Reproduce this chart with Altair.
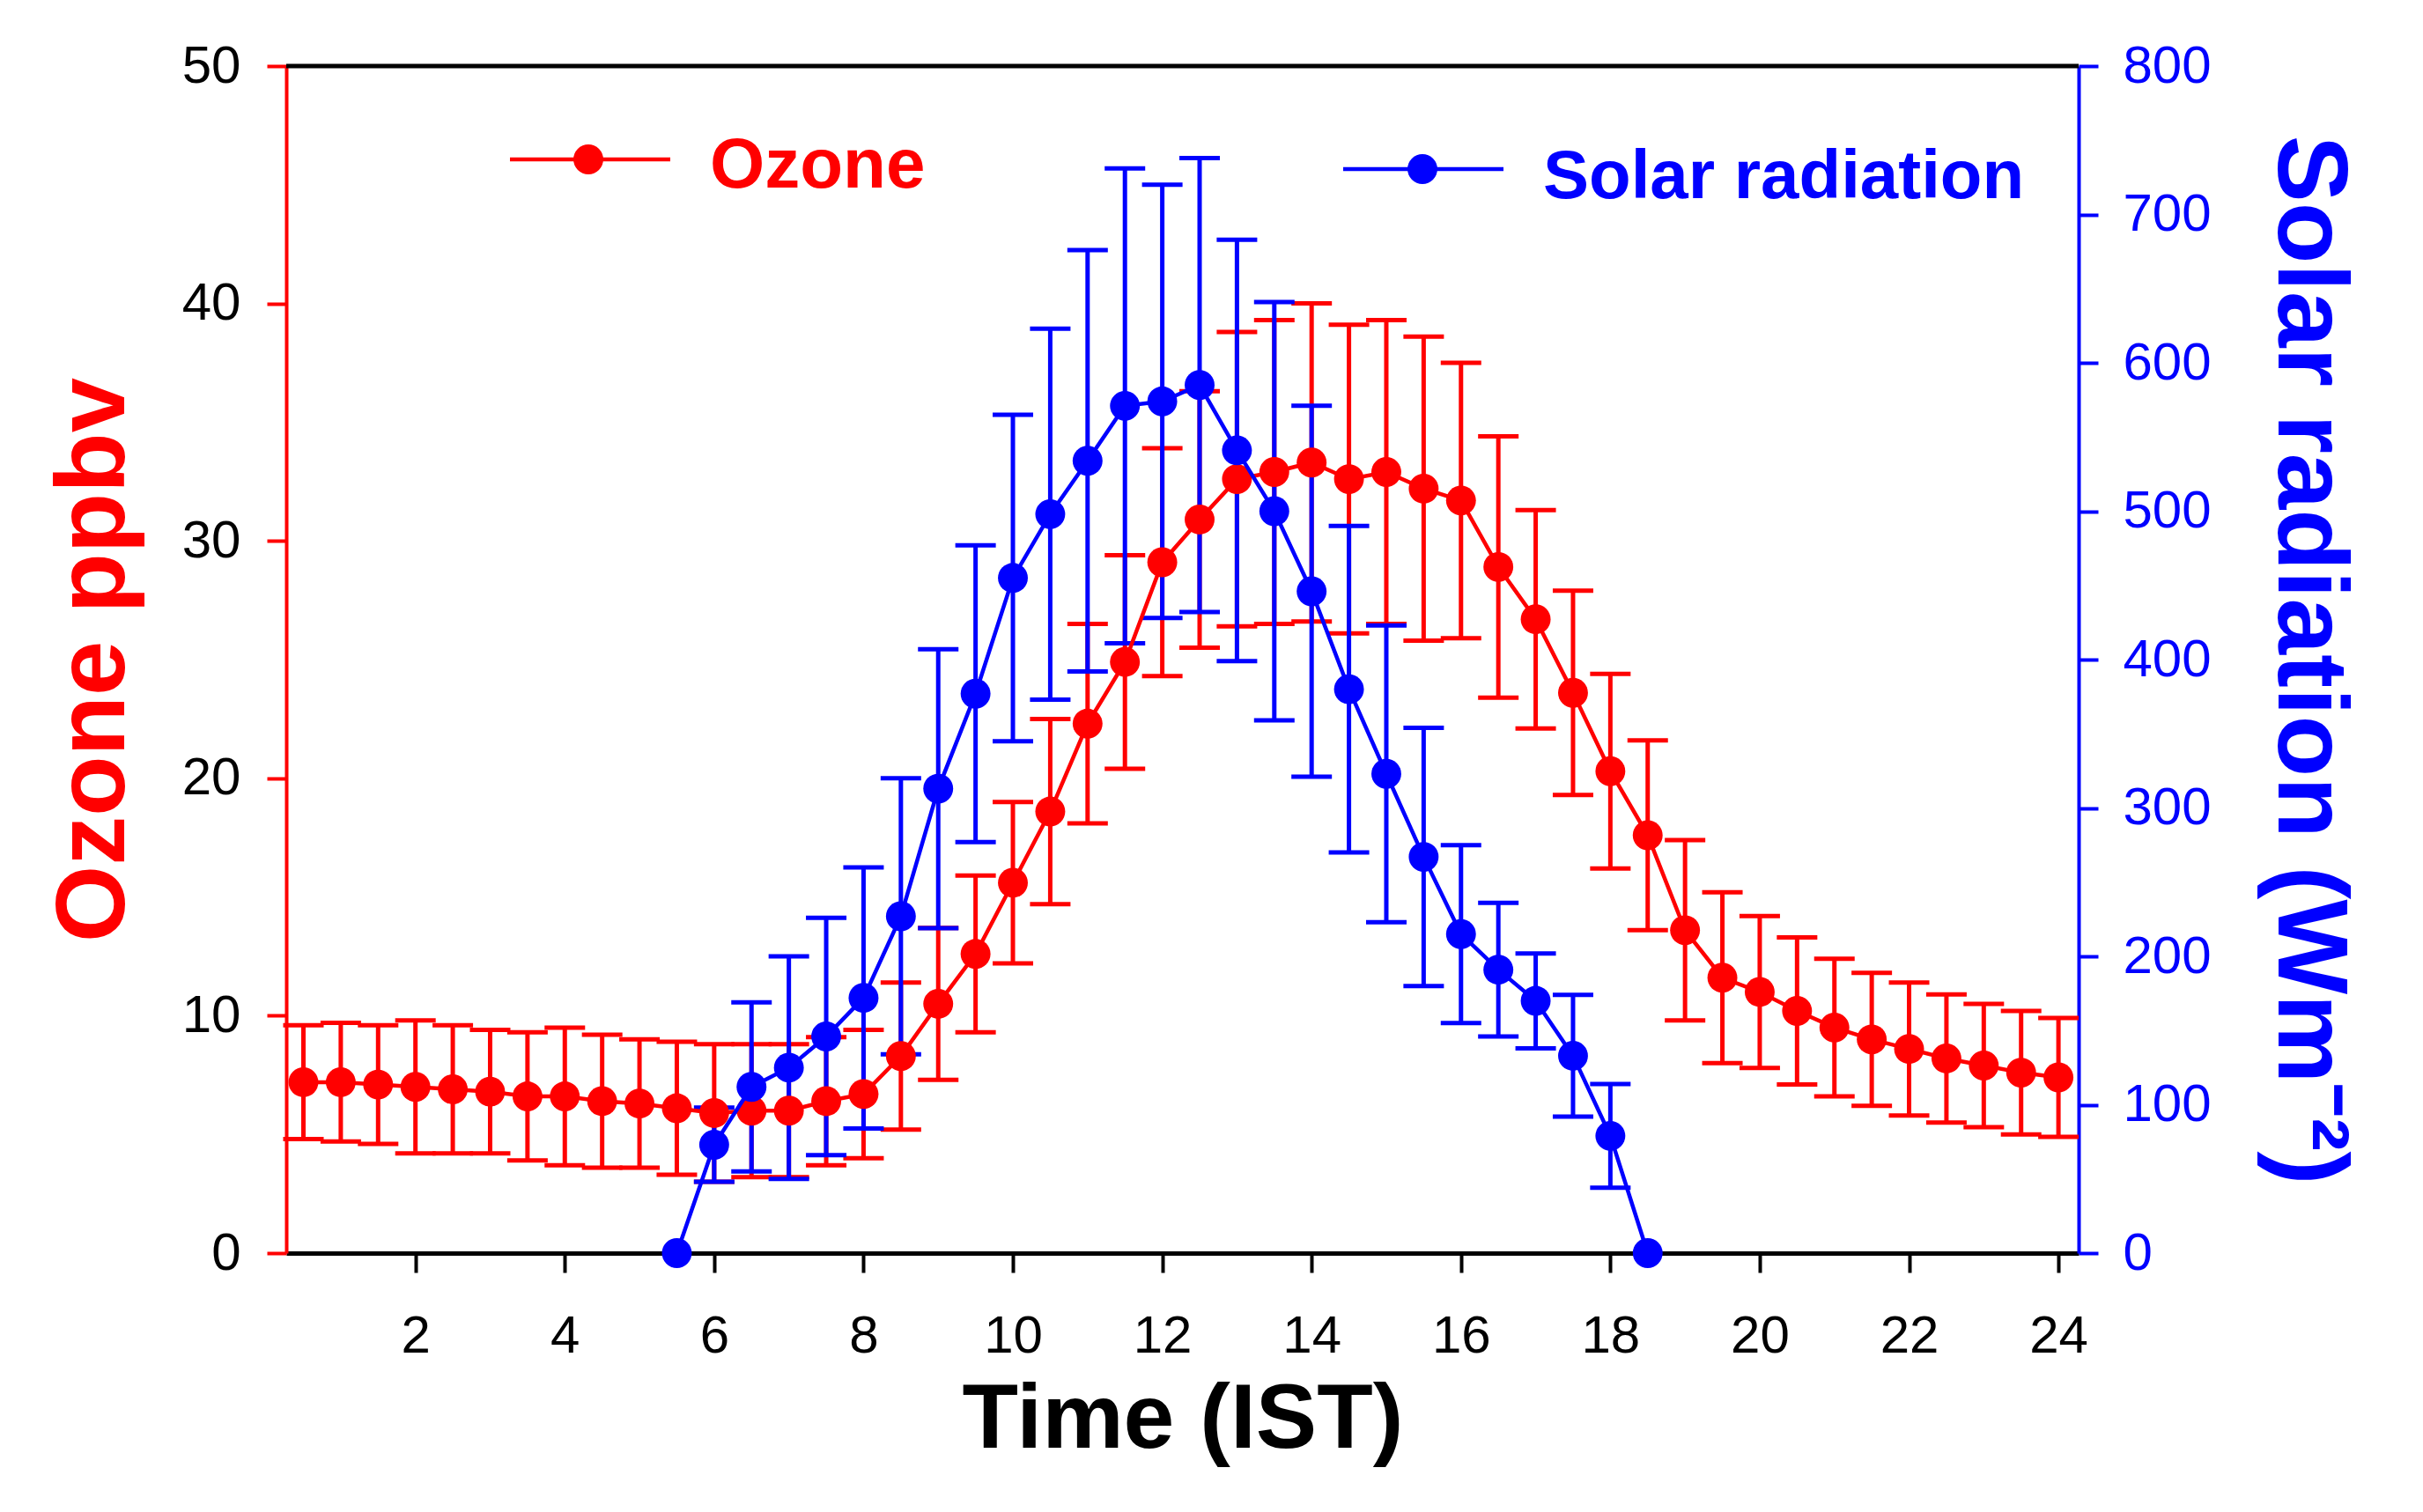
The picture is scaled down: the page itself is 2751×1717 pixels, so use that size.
import altair as alt
import pandas as pd

# ---------------- data ----------------
ozone_time = [0.5, 1.0, 1.5, 2.0, 2.5, 3.0, 3.5, 4.0, 4.5, 5.0, 5.5, 6.0,
              6.5, 7.0, 7.5, 8.0, 8.5, 9.0, 9.5, 10.0, 10.5, 11.0, 11.5, 12.0,
              12.5, 13.0, 13.5, 14.0, 14.5, 15.0, 15.5, 16.0, 16.5, 17.0, 17.5, 18.0,
              18.5, 19.0, 19.5, 20.0, 20.5, 21.0, 21.5, 22.0, 22.5, 23.0, 23.5, 24.0]
ozone_mean = [7.2, 7.2, 7.1, 7.0, 6.9, 6.8, 6.6, 6.6, 6.4, 6.3, 6.1, 5.9,
              6.0, 6.0, 6.4, 6.7, 8.3, 10.5, 12.6, 15.6, 18.6, 22.3, 24.9, 29.1,
              30.9, 32.6, 32.9, 33.3, 32.6, 32.9, 32.2, 31.7, 28.9, 26.7, 23.6, 20.3,
              17.6, 13.6, 11.6, 11.0, 10.2, 9.5, 9.0, 8.6, 8.2, 7.9, 7.6, 7.4]
ozone_err = [2.4, 2.5, 2.5, 2.8, 2.7, 2.6, 2.7, 2.9, 2.8, 2.7, 2.8, 2.9,
             2.8, 2.8, 2.7, 2.7, 3.1, 3.2, 3.3, 3.4, 3.9, 4.2, 4.5, 4.8,
             5.4, 6.2, 6.4, 6.7, 6.5, 6.4, 6.4, 5.8, 5.5, 4.6, 4.3, 4.1,
             4.0, 3.8, 3.6, 3.2, 3.1, 2.9, 2.8, 2.8, 2.7, 2.6, 2.6, 2.5]

solar_time = [5.5, 6.0, 6.5, 7.0, 7.5, 8.0, 8.5, 9.0, 9.5, 10.0, 10.5, 11.0,
              11.5, 12.0, 12.5, 13.0, 13.5, 14.0, 14.5, 15.0, 15.5, 16.0, 16.5,
              17.0, 17.5, 18.0, 18.5]
solar_mean = [0, 73, 112, 125, 146, 172, 227, 313, 377, 455, 498, 534,
              571, 574, 585, 541, 500, 446, 380, 323, 267, 215, 191,
              170, 133, 79, 0]
solar_err = [0, 25, 57, 75, 80, 88, 93, 94, 100, 110, 125, 142,
             160, 146, 153, 142, 141, 125, 110, 100, 87, 60, 45,
             32, 41, 35, 0]

x_ticks = [2, 4, 6, 8, 10, 12, 14, 16, 18, 20, 22, 24]
ozone_ticks = [0, 10, 20, 30, 40, 50]
solar_ticks = [0, 100, 200, 300, 400, 500, 600, 700, 800]

RED = "#ff0000"
BLUE = "#0000ff"
NARROW = "Liberation Sans Narrow, Arial Narrow, Liberation Sans, Arial"
BOLD = "Liberation Sans, Arial, Helvetica"

oz = pd.DataFrame({"time": ozone_time, "val": ozone_mean, "err": ozone_err})
oz["lo"] = oz["val"] - oz["err"]
oz["hi"] = oz["val"] + oz["err"]

so = pd.DataFrame({"time": solar_time, "val": solar_mean, "err": solar_err})
so["lo"] = so["val"] - so["err"]
so["hi"] = so["val"] + so["err"]
so_err = so[so["err"] > 0]

W, H = 2035, 1348

x_axis = alt.Axis(values=x_ticks, grid=False, title="Time (IST)",
                  domainColor="black", domainWidth=5,
                  tickColor="black", tickWidth=4, tickSize=22,
                  labelFont=NARROW, labelFontSize=60, labelColor="black",
                  labelPadding=43, labelFlush=False,
                  titleFont=BOLD, titleFontSize=104, titleFontWeight="bold",
                  titleColor="black", titlePadding=14)
x_enc = alt.X("time:Q", scale=alt.Scale(domain=[0.27, 24.27], nice=False, zero=False),
              axis=x_axis)

oz_scale = alt.Scale(domain=[0, 50], nice=False, zero=False)
so_scale = alt.Scale(domain=[0, 800], nice=False, zero=False)

left_axis = alt.Axis(orient="left", values=ozone_ticks, grid=False,
                     title="Ozone ppbv",
                     domainColor=RED, domainWidth=4,
                     tickColor=RED, tickWidth=4, tickSize=22,
                     labelFont=NARROW, labelFontSize=60, labelColor="black",
                     labelPadding=30,
                     titleFont=BOLD, titleFontSize=112, titleFontWeight="bold",
                     titleColor=RED, titlePadding=42)
right_axis = alt.Axis(orient="right", values=solar_ticks, grid=False,
                      title="Solar radiation (Wm⁻²)",
                      domainColor=BLUE, domainWidth=4,
                      tickColor=BLUE, tickWidth=4, tickSize=22,
                      labelFont=NARROW, labelFontSize=60, labelColor=BLUE,
                      labelPadding=28,
                      titleFont=BOLD, titleFontSize=114, titleFontWeight="bold",
                      titleColor=BLUE, titlePadding=52)

one = pd.DataFrame({"k": [0]})

# top frame line
top_border = alt.Chart(one).mark_rule(color="black", strokeWidth=5).encode(
    x=alt.value(0), x2=alt.value(W), y=alt.value(0))

# ozone error bars
oz_bar = alt.Chart(oz).mark_rule(color=RED, strokeWidth=5).encode(
    x=x_enc, y=alt.Y("lo:Q", scale=oz_scale, axis=left_axis), y2="hi:Q")
oz_cap_hi = alt.Chart(oz).mark_tick(color=RED, orient="horizontal", size=46,
                                    thickness=5, opacity=1).encode(
    x=x_enc, y=alt.Y("hi:Q", scale=oz_scale, axis=None))
oz_cap_lo = alt.Chart(oz).mark_tick(color=RED, orient="horizontal", size=46,
                                    thickness=5, opacity=1).encode(
    x=x_enc, y=alt.Y("lo:Q", scale=oz_scale, axis=None))

# solar error bars
so_bar = alt.Chart(so_err).mark_rule(color=BLUE, strokeWidth=5).encode(
    x=x_enc, y=alt.Y("lo:Q", scale=so_scale, axis=right_axis), y2="hi:Q")
so_cap_hi = alt.Chart(so_err).mark_tick(color=BLUE, orient="horizontal", size=46,
                                        thickness=5, opacity=1).encode(
    x=x_enc, y=alt.Y("hi:Q", scale=so_scale, axis=None))
so_cap_lo = alt.Chart(so_err).mark_tick(color=BLUE, orient="horizontal", size=46,
                                        thickness=5, opacity=1).encode(
    x=x_enc, y=alt.Y("lo:Q", scale=so_scale, axis=None))

# lines and symbols
oz_line = alt.Chart(oz).mark_line(color=RED, strokeWidth=4.5).encode(
    x=x_enc, y=alt.Y("val:Q", scale=oz_scale, axis=None))
oz_pts = alt.Chart(oz).mark_point(color=RED, filled=True, opacity=1, size=1150).encode(
    x=x_enc, y=alt.Y("val:Q", scale=oz_scale, axis=None))
so_line = alt.Chart(so).mark_line(color=BLUE, strokeWidth=4.5).encode(
    x=x_enc, y=alt.Y("val:Q", scale=so_scale, axis=None))
so_pts = alt.Chart(so).mark_point(color=BLUE, filled=True, opacity=1, size=1150).encode(
    x=x_enc, y=alt.Y("val:Q", scale=so_scale, axis=None))

# legend (drawn inside the plot)
leg_oz_line = alt.Chart(one).mark_rule(color=RED, strokeWidth=4.5).encode(
    x=alt.value(254), x2=alt.value(436), y=alt.value(106))
leg_oz_pt = alt.Chart(one).mark_point(color=RED, filled=True, opacity=1, size=1150).encode(
    x=alt.value(343), y=alt.value(106))
leg_oz_txt = alt.Chart(one).mark_text(text="Ozone", color=RED, font=BOLD,
                                      fontSize=80, fontWeight="bold",
                                      align="left", baseline="alphabetic").encode(
    x=alt.value(481), y=alt.value(138))
leg_so_line = alt.Chart(one).mark_rule(color=BLUE, strokeWidth=4.5).encode(
    x=alt.value(1200), x2=alt.value(1382), y=alt.value(117))
leg_so_pt = alt.Chart(one).mark_point(color=BLUE, filled=True, opacity=1, size=1150).encode(
    x=alt.value(1290), y=alt.value(117))
leg_so_txt = alt.Chart(one).mark_text(text="Solar radiation", color=BLUE, font=BOLD,
                                      fontSize=78, fontWeight="bold",
                                      align="left", baseline="alphabetic").encode(
    x=alt.value(1427), y=alt.value(150))

chart = alt.layer(
    top_border,
    oz_bar, oz_cap_hi, oz_cap_lo,
    so_bar, so_cap_hi, so_cap_lo,
    oz_line, oz_pts, so_line, so_pts,
    leg_oz_line, leg_oz_pt, leg_oz_txt,
    leg_so_line, leg_so_pt, leg_so_txt,
).resolve_scale(y="independent").properties(
    width=W, height=H,
    autosize=alt.AutoSizeParams(type="none"),
    padding={"left": 317, "top": 67, "right": 370, "bottom": 270},
    background="white",
).configure_view(stroke=None)

chart.save("out.html", embed_options={"renderer": "svg", "actions": False})
